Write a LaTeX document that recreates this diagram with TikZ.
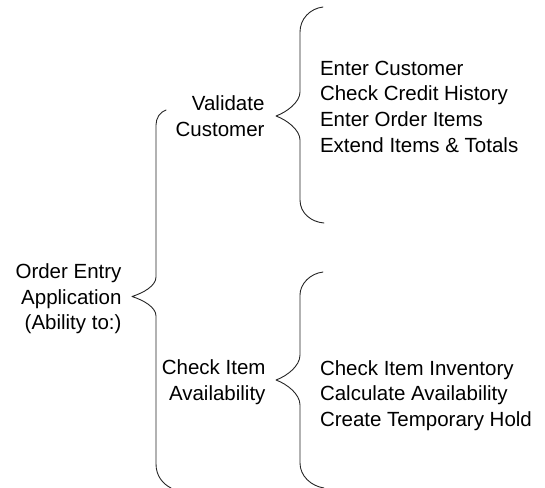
\documentclass[tikz,border=0pt]{standalone}
\usepackage{fontspec}
\setmainfont{Liberation Sans}
\begin{document}
\begin{tikzpicture}[x=1pt,y=-1pt,
  label/.style={inner sep=0pt,outer sep=0pt,font=\fontsize{20.5}{25.6}\selectfont},
  brace/.style={draw=black!85,line width=0.9pt,line cap=round,line join=round}]
\useasboundingbox (0,0) rectangle (545,487);

% root label, right aligned
\node[label,anchor=base east] (oe1) at (121.5,278.5) {Order Entry};
\node[label,anchor=base east] (oe2) at (121.5,304.1) {Application};
\node[label,anchor=base east] (oe3) at (121.5,329.7) {(Ability to:)};

% second level labels
\node[label,anchor=base east] (vc1) at (264.5,110.5) {Validate};
\node[label,anchor=base east] (vc2) at (264.5,136.1) {Customer};
\node[label,anchor=base east] (ci1) at (265.5,374.5) {Check Item};
\node[label,anchor=base east] (ci2) at (265.5,400.1) {Availability};

% upper list
\foreach \t [count=\i] in {Enter Customer,Check Credit History,Enter Order Items,Extend Items \& Totals}
  \node[label,anchor=base west] (up\i) at (320,{75.2+(\i-1)*25.6}) {\t};

% lower list
\foreach \t [count=\i] in {Check Item Inventory,Calculate Availability,Create Temporary Hold}
  \node[label,anchor=base west] (lo\i) at (320,{375+(\i-1)*25.6}) {\t};

% big brace
\draw[brace] (166,110) .. controls (160,112) and (156,118) .. (156,125)
  -- (156,277) .. controls (156,286) and (143,293) .. (132,296.5)
  .. controls (143,300) and (156,307) .. (156,316)
  -- (156,464) .. controls (156,476) and (163,484) .. (171,488);

% upper brace
\draw[brace] (323,7) .. controls (310,8.5) and (300,19) .. (300,32)
  -- (300,92) .. controls (300,102) and (287,112) .. (276,116)
  .. controls (287,120) and (300,130) .. (300,140)
  -- (300,200) .. controls (300,213) and (311,222) .. (324,223);

% lower brace
\draw[brace] (323,272) .. controls (310,273.5) and (300,284) .. (300,295)
  -- (300,355) .. controls (300,366) and (287,376) .. (276,380)
  .. controls (287,384) and (300,394) .. (300,405)
  -- (300,463) .. controls (300,476) and (311,486) .. (324,488);
\end{tikzpicture}
\end{document}
